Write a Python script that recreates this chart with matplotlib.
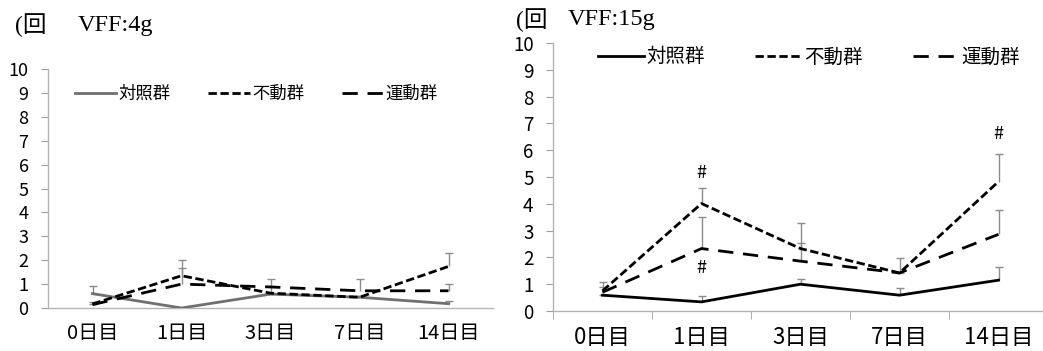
import numpy as np
import matplotlib.pyplot as plt

plt.rcParams['font.family'] = ['Noto Sans CJK JP', 'DejaVu Sans']

days = ['0日目', '1日目', '3日目', '7日目', '14日目']
groups = ['対照群', '不動群', '運動群']

# VFF:4g
ctrl_4 = [0.6, 0.0, 0.58, 0.45, 0.18]
ctrl_4_err = [0.33, 0.0, 0.05, 0.05, 0.1]
immo_4 = [0.17, 1.35, 0.62, 0.45, 1.74]
immo_4_err = [0.0, 0.65, 0.6, 0.05, 0.56]
exer_4 = [0.14, 1.0, 0.88, 0.72, 0.72]
exer_4_err = [0.13, 0.67, 0.05, 0.48, 0.3]

# VFF:15g
ctrl_15 = [0.59, 0.34, 1.0, 0.59, 1.15]
ctrl_15_err = [0.0, 0.21, 0.21, 0.28, 0.5]
immo_15 = [0.75, 4.01, 2.33, 1.42, 4.83]
immo_15_err = [0.33, 0.57, 0.96, 0.56, 1.02]
exer_15 = [0.7, 2.33, 1.86, 1.42, 2.86]
exer_15_err = [0.2, 1.19, 0.66, 0.0, 0.91]

# "#" marks (day index, y)
marks_15 = [(1, 5.15), (1, 1.6), (4, 6.6)]

short_dash = (0, (3.0, 1.3))
long_dash = (0, (5.5, 3.5))
W, H = 1043, 351

fig = plt.figure(figsize=(W / 100, H / 100), dpi=100)


def draw(ax, data, ctrl_color, fs_tick, fs_x, fs_leg, leg_x, leg_y, colsp, xminor):
    x = np.arange(len(days))
    for y, e in data:
        eb = ax.errorbar(x, y, yerr=[np.zeros(len(e)), e], fmt='none',
                         ecolor='#8c8c8c', elinewidth=1.0, capsize=3, capthick=1.0, zorder=2)
        for cl in eb[1]:
            if np.allclose(cl.get_ydata(), y):
                cl.set_visible(False)
    (c, _), (im, _), (ex, _) = data
    ax.plot(x, c, color=ctrl_color, lw=2.0, label=groups[0], zorder=3)
    ax.plot(x, im, color='black', lw=2.0, linestyle=short_dash, label=groups[1], zorder=3)
    ax.plot(x, ex, color='black', lw=2.0, linestyle=long_dash, label=groups[2], zorder=3)

    ax.set_xlim(-0.5, len(days) - 0.5)
    ax.set_ylim(0, 10)
    ax.set_yticks(range(0, 11))
    ax.set_xticks(x)
    ax.set_xticklabels(days, fontsize=fs_x)
    ax.tick_params(axis='x', length=0, pad=11)
    ax.tick_params(axis='y', length=5, color='#a0a0a0', labelsize=fs_tick, pad=9)
    if xminor:
        ax.set_xticks(np.arange(-0.5, len(days), 1.0), minor=True)
        ax.tick_params(axis='x', which='minor', length=6, color='#a0a0a0')
    for s in ['top', 'right']:
        ax.spines[s].set_visible(False)
    for s in ['left', 'bottom']:
        ax.spines[s].set_color('#b4b4b4')
        ax.spines[s].set_linewidth(1.0)
    ax.legend(loc='center left', bbox_to_anchor=(leg_x, leg_y), ncol=3, frameon=False,
              fontsize=fs_leg, handlelength=2.4, handletextpad=0.1, columnspacing=colsp,
              borderpad=0, borderaxespad=0)


ax1 = fig.add_axes([48 / W, 1 - 308 / H, 445 / W, 239 / H])
draw(ax1, [(ctrl_4, ctrl_4_err), (immo_4, immo_4_err), (exer_4, exer_4_err)],
     '#707070', 13, 14.5, 12.5, 0.06, 0.895, 2.2, False)

ax2 = fig.add_axes([553 / W, 1 - 311 / H, 495 / W, 268 / H])
draw(ax2, [(ctrl_15, ctrl_15_err), (immo_15, immo_15_err), (exer_15, exer_15_err)],
     'black', 13.5, 16, 14, 0.09, 0.948, 2.6, True)
for i, yv in marks_15:
    ax2.text(i, yv, '#', ha='center', va='center', fontsize=13)

serif = ['Liberation Serif', 'Noto Sans CJK JP']
fig.text(15 / W, 1 - 25 / H, '(回', family=serif, fontsize=17, va='center', ha='left')
fig.text(78 / W, 1 - 25 / H, 'VFF:4g', family=serif, fontsize=17.5, va='center', ha='left')
fig.text(516 / W, 1 - 20 / H, '(回', family=serif, fontsize=17, va='center', ha='left')
fig.text(568 / W, 1 - 20 / H, 'VFF:15g', family=serif, fontsize=17.5, va='center', ha='left')

fig.savefig('out.png', dpi=100)
